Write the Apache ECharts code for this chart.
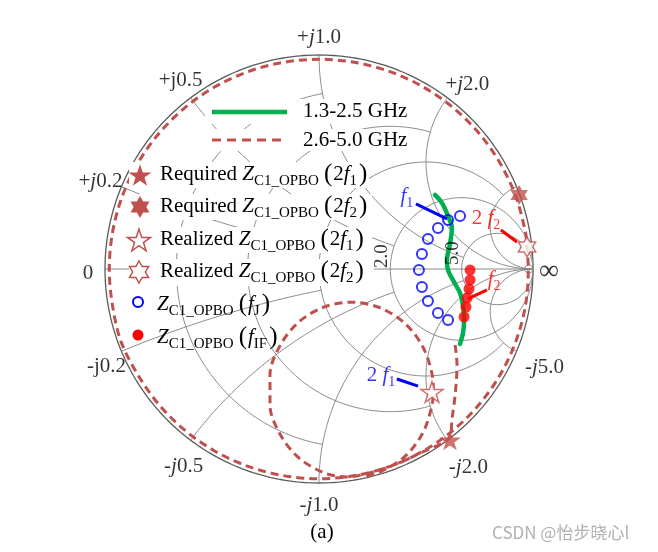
<!DOCTYPE html>
<html>
<head>
<meta charset="utf-8">
<title>Smith chart</title>
<script src="https://cdn.jsdelivr.net/npm/echarts@6.0.0/dist/echarts.min.js"></script>
<style>
html,body{margin:0;padding:0;background:#ffffff;}
#chart{width:658px;height:552px;}
</style>
</head>
<body>
<div id="chart"></div>
<script>
// ===== Data, in the reflection-coefficient plane: [Re Γ, Im Γ] =====
// 1.3-2.5 GHz trace
const band1Trace = [
  [0.542,0.346],[0.575,0.308],[0.607,0.238],[0.621,0.192],[0.612,0.117],[0.598,0.042],
  [0.603,-0.005],[0.631,-0.061],[0.659,-0.112],[0.673,-0.173],[0.678,-0.238],[0.673,-0.299],[0.659,-0.350]
];
// 2.6-5.0 GHz trace
const band2Trace = [
  [0.636,-0.355],[0.645,-0.449],[0.636,-0.589],[0.621,-0.706],[0.612,-0.785],
  [0.490,-0.852],[0.335,-0.921],[0.170,-0.965],[0.000,-0.980],[-0.170,-0.965],[-0.335,-0.921],
  [-0.490,-0.849],[-0.630,-0.751],[-0.751,-0.630],[-0.849,-0.490],[-0.926,-0.337],[-0.965,-0.170],
  [-0.980,0.000],[-0.965,0.170],[-0.921,0.335],[-0.849,0.490],[-0.751,0.630],[-0.630,0.751],
  [-0.490,0.849],[-0.335,0.921],[-0.170,0.965],[0.000,0.980],[0.170,0.965],[0.335,0.921],
  [0.490,0.849],[0.630,0.751],[0.751,0.630],[0.849,0.490],[0.921,0.335],[0.965,0.170],
  [0.972,0.103],[0.978,0.000],[0.965,-0.170],[0.921,-0.335],[0.849,-0.490],[0.751,-0.630],
  [0.630,-0.751],[0.490,-0.849],[0.335,-0.921],[0.200,-0.962],
  [0.130,-0.972],[0.018,-0.950],[-0.098,-0.879],[-0.183,-0.770],[-0.229,-0.636],[-0.229,-0.494],
  [-0.183,-0.360],[-0.098,-0.251],[0.018,-0.180],[0.150,-0.155],[0.282,-0.180],[0.398,-0.251],
  [0.483,-0.360],[0.529,-0.494],[0.534,-0.570],[0.525,-0.650],[0.483,-0.770],[0.398,-0.879],
  [0.282,-0.950],[0.210,-0.968]
];
// Z_C1_OPBO(f_J)
const zFJ = [
  [0.659,0.248],[0.603,0.229],[0.556,0.192],[0.509,0.140],[0.481,0.070],
  [0.467,-0.005],[0.481,-0.084],[0.509,-0.150],[0.556,-0.206],[0.603,-0.238]
];
// Z_C1_OPBO(f_IF)
const zFIF = [
  [0.706,-0.005],[0.706,-0.051],[0.701,-0.093],[0.692,-0.136],[0.687,-0.178],[0.678,-0.224]
];
const required2f1 = [[0.612,-0.799]];
const required2f2 = [[0.935,0.346]];
const realized2f1 = [[0.528,-0.575]];
const realized2f2 = [[0.972,0.103]];
// annotation leader lines and their label anchors
const leaderF1  = [[0.453,0.304],[0.598,0.234]];
const leader2F2 = [[0.850,0.182],[0.925,0.126]];
const leaderF2  = [[0.785,-0.098],[0.696,-0.140]];
const leader2F1 = [[0.364,-0.514],[0.463,-0.547]];
const annotationAnchors = [[0.411,0.340],[0.780,0.236],[0.818,-0.049],[0.290,-0.498]];
const annotationNames = ['f1','2f2','f2','2f1'];

// ===== Smith chart grid values and tick labels =====
const resistanceCircles = [0.2, 0.5, 1, 2, 5, 50];
const resistanceCircleReach = [1, 2, 5, Infinity, Infinity, Infinity];
const reactanceArcs = [0.2, 0.5, 1, 2, 5, -0.2, -0.5, -1, -2, -5];
const reactanceArcReach = [1, 2, 5, Infinity, Infinity, 1, 2, 5, Infinity, Infinity];
const reactanceTickValues = [0.2, 0.5, 1, 2, -0.2, -0.5, -1, -2, -5];
const reactanceTickLabels = ['+j0.2','+j0.5','+j1.0','+j2.0','-j0.2','-j0.5','-j1.0','-j2.0','-j5.0'];
const resistanceTickValues = [0, 2, 5, Infinity];
const resistanceTickLabels = ['0','2.0','5.0','\u221E'];

// ===== Styling / layout (not data) =====
const reactanceTickItalicJ = [true,false,true,true,false,true,true,true,true];
const reactanceTickOffset = [[-21,-5],[-10,-17],[0,-18],[20,-13],[-15,15],[-7,26],[0,22],[21,27],[28,16]];
// offsets of rotated labels are given in the label's own (rotated) frame
const resistanceTickOffset = [[-17,4],[13,-8],[16,-9],[16,3]];
const resistanceTickRotate = [0,90,90,0];
const resistanceTickSize = [21,19,19,28];
const SERIF = '"Liberation Serif","Times New Roman",serif';
const STAR_RED = '#c0504d';
const STAR5 = 'M50,0L61.8,35.1L98.9,35.1L68.9,56.7L80.3,91.9L50,70.2L19.7,91.9L31.1,56.7L1.1,35.1L38.2,35.1Z';
const HEX6 = 'M50,0L64.43,25L93.3,25L78.87,50L93.3,75L64.43,75L50,100L35.57,75L6.7,75L21.13,50L6.7,25L35.57,25Z';

function gamma(r, x) {
  if (!isFinite(r)) return [1, 0];
  const d = (r + 1) * (r + 1) + x * x;
  return [(r * r - 1 + x * x) / d, 2 * x / d];
}
function resistanceCirclePoints(r, reach) {
  const c = r / (1 + r), rad = 1 / (1 + r);
  let a0 = 0, a1 = 2 * Math.PI;
  if (isFinite(reach)) {
    const g = gamma(r, reach);
    a0 = Math.atan2(g[1], g[0] - c);
    a1 = 2 * Math.PI - a0;
  }
  const pts = [];
  const n = 360;
  for (let k = 0; k <= n; k++) {
    const a = a0 + (a1 - a0) * k / n;
    pts.push([c + rad * Math.cos(a), rad * Math.sin(a)]);
  }
  return pts;
}
function reactanceArcPoints(x, reach) {
  const T = isFinite(reach) ? reach / (1 + reach) : 1;
  const pts = [];
  const n = 300;
  for (let k = 0; k <= n; k++) {
    const t = T * k / n;
    if (t >= 1) { pts.push([1, 0]); continue; }
    pts.push(gamma(t / (1 - t), x));
  }
  return pts;
}
function gridLine(points, color, width) {
  return {
    type: 'line', data: points, showSymbol: false, symbol: 'none', silent: true, clip: false,
    animation: false, z: 1,
    lineStyle: { color: color, width: width }
  };
}

const series = [];
// unit circle + real axis
series.push(gridLine(resistanceCirclePoints(0, Infinity), '#5a5a5a', 1.3));
series.push(gridLine([[-1, 0], [1, 0]], '#8a8a8a', 1));
resistanceCircles.forEach((r, i) => series.push(gridLine(resistanceCirclePoints(r, resistanceCircleReach[i]), '#8a8a8a', 1)));
reactanceArcs.forEach((x, i) => series.push(gridLine(reactanceArcPoints(x, reactanceArcReach[i]), '#8a8a8a', 1)));

// tick labels
const tickRich = {
  n: { fontFamily: SERIF, fontSize: 21, color: '#000' },
  i: { fontFamily: SERIF, fontSize: 21, fontStyle: 'italic', color: '#000' }
};
function tickText(label, italicJ) {
  const k = label.indexOf('j');
  return '{n|' + label.slice(0, k) + '}{' + (italicJ ? 'i' : 'n') + '|j}{n|' + label.slice(k + 1) + '}';
}
series.push({
  type: 'scatter', silent: true, clip: false, animation: false, symbolSize: 1, z: 6,
  itemStyle: { color: 'rgba(0,0,0,0)' },
  data: reactanceTickValues.map((v, i) => ({ value: gamma(0, v), label: { offset: reactanceTickOffset[i] } })),
  label: {
    show: true, position: 'inside', color: '#000', align: 'center', verticalAlign: 'middle',
    formatter: p => tickText(reactanceTickLabels[p.dataIndex], reactanceTickItalicJ[p.dataIndex]),
    rich: tickRich
  }
});
series.push({
  type: 'scatter', silent: true, clip: false, animation: false, symbolSize: 1, z: 6,
  itemStyle: { color: 'rgba(0,0,0,0)' },
  data: resistanceTickValues.map((r, i) => ({
    value: gamma(r, 0),
    label: { offset: resistanceTickOffset[i], rotate: resistanceTickRotate[i], fontSize: resistanceTickSize[i] }
  })),
  label: {
    show: true, position: 'inside', color: '#000', align: 'center', verticalAlign: 'middle',
    fontFamily: SERIF,
    formatter: p => resistanceTickLabels[p.dataIndex]
  }
});

// data traces
series.push({
  type: 'line', data: band2Trace, smooth: 0.33, showSymbol: false, symbol: 'none', silent: true, clip: false,
  animation: false, z: 3, lineStyle: { color: STAR_RED, width: 3, type: [8, 5] }
});
series.push({
  type: 'line', data: band1Trace, smooth: 0.33, showSymbol: false, symbol: 'none', silent: true, clip: false,
  animation: false, z: 4, lineStyle: { color: '#00b050', width: 4.5, cap: 'round' }
});
series.push({
  type: 'scatter', data: zFJ, symbol: 'circle', symbolSize: 10, silent: true, clip: false, animation: false, z: 5,
  itemStyle: { color: 'rgba(255,255,255,0)', borderColor: '#0000ff', borderWidth: 2 }
});
series.push({
  type: 'scatter', data: zFIF, symbol: 'circle', symbolSize: 11, silent: true, clip: false, animation: false, z: 5,
  itemStyle: { color: '#ff0000' }
});
// leader lines
[[leaderF1, '#0000ff'], [leader2F2, '#ff0000'], [leaderF2, '#ff0000'], [leader2F1, '#0000ff']].forEach(([d, col]) => {
  series.push({
    type: 'line', data: d, showSymbol: false, symbol: 'none', silent: true, clip: false, animation: false, z: 6,
    lineStyle: { color: col, width: 3 }
  });
});
// stars
function starSeries(data, path, size, hollow) {
  return {
    type: 'scatter', data: data, symbol: 'path://' + path, symbolSize: size, symbolKeepAspect: true,
    silent: true, clip: false, animation: false, z: 7,
    itemStyle: hollow ? { color: '#ffffff', borderColor: STAR_RED, borderWidth: 1.5 } : { color: STAR_RED }
  };
}
series.push(starSeries(required2f1, STAR5, 22, false));
series.push(starSeries(required2f2, HEX6, 20, false));
series.push(starSeries(realized2f1, STAR5, 22, true));
series.push(starSeries(realized2f2, HEX6, 20, true));

// annotation labels
function annotationText(name) {
  const col = (name === 'f1' || name === '2f1') ? 'b' : 'r';
  const lead = name.length === 3 ? '{' + col + 'n|2 }' : '';
  return lead + '{' + col + 'i|f}{' + col + 's|' + name.slice(-1) + '}';
}
function annRich(c) {
  return {
    n: { fontFamily: SERIF, fontSize: 21, color: c },
    i: { fontFamily: SERIF, fontSize: 21, fontStyle: 'italic', color: c },
    s: { fontFamily: SERIF, fontSize: 14, color: c, padding: [14, 0, 0, 0] }
  };
}
const rb = annRich('#0000ff'), rr = annRich('#ff0000');
series.push({
  type: 'scatter', silent: true, clip: false, animation: false, symbolSize: 1, z: 8,
  itemStyle: { color: 'rgba(0,0,0,0)' },
  data: annotationAnchors,
  label: {
    show: true, position: 'inside', align: 'center', verticalAlign: 'middle',
    formatter: p => annotationText(annotationNames[p.dataIndex]),
    rich: { bn: rb.n, bi: rb.i, bs: rb.s, rn: rr.n, ri: rr.i, rs: rr.s }
  }
});

// ===== Legend (graphic) =====
function gRich(color) {
  return {
    n: { font: '21px ' + SERIF, fill: color },
    i: { font: 'italic 21px ' + SERIF, fill: color },
    s: { font: '15px ' + SERIF, fill: color, padding: [14, 0, 0, 0] },
    po: { font: '25px ' + SERIF, fill: color, padding: [0, 1, 0, 5] },
    pc: { font: '25px ' + SERIF, fill: color, padding: [0, 0, 0, 2] }
  };
}
const legendRich = gRich('#000');
function legendText(x, y, text) {
  return {
    type: 'text', x: x, y: y, z: 102,
    style: { text: text, rich: legendRich, fill: '#000', font: '21px ' + SERIF,
      align: 'left', verticalAlign: 'middle', textAlign: 'left', textVerticalAlign: 'middle' }
  };
}
function whiteBox(x, y, w, h) {
  return { type: 'rect', z: 100, shape: { x: x, y: y, width: w, height: h }, style: { fill: '#ffffff' } };
}
function pathToPoints(path, cx, cy, size) {
  const nums = path.match(/-?\d+(\.\d+)?/g).map(Number);
  const pts = [];
  for (let k = 0; k < nums.length; k += 2) pts.push([nums[k], nums[k + 1]]);
  const xs = pts.map(p => p[0]), ys = pts.map(p => p[1]);
  const minX = Math.min(...xs), maxX = Math.max(...xs), minY = Math.min(...ys), maxY = Math.max(...ys);
  const s = size / Math.max(maxX - minX, maxY - minY);
  const mx = (minX + maxX) / 2, my = (minY + maxY) / 2;
  return pts.map(p => [cx + (p[0] - mx) * s, cy + (p[1] - my) * s]);
}
function legendStar(path, cx, cy, size, hollow) {
  return {
    type: 'polygon', z: 101,
    shape: { points: pathToPoints(path, cx, cy, size) },
    style: hollow ? { fill: '#ffffff', stroke: STAR_RED, lineWidth: 1.5 } : { fill: STAR_RED }
  };
}
const zLabel = '{i|Z}{s|C1_OPBO}';
const graphic = [
  whiteBox(205, 99, 209, 25),
  whiteBox(205, 129, 209, 22),
  whiteBox(129, 162, 240, 26),
  whiteBox(129, 194, 243, 26),
  whiteBox(129, 227, 243, 26),
  whiteBox(129, 259, 245, 27),
  { type: 'line', z: 101, shape: { x1: 212, y1: 112, x2: 287, y2: 112 }, style: { stroke: '#00b050', lineWidth: 4.5 } },
  { type: 'line', z: 101, shape: { x1: 212, y1: 140, x2: 287, y2: 140 }, style: { stroke: STAR_RED, lineWidth: 3, lineDash: [9, 6] } },
  legendText(303, 111, '{n|1.3-2.5 GHz}'),
  legendText(303, 140, '{n|2.6-5.0 GHz}'),
  legendStar(STAR5, 140, 175, 23, false),
  legendStar(HEX6, 140, 207, 22, false),
  legendStar(STAR5, 139, 240, 23, true),
  legendStar(HEX6, 139, 272, 22, true),
  { type: 'circle', z: 101, shape: { cx: 138, cy: 302, r: 5 }, style: { fill: 'none', stroke: '#0000ff', lineWidth: 2 } },
  { type: 'circle', z: 101, shape: { cx: 138, cy: 335, r: 5.5 }, style: { fill: '#ff0000' } },
  legendText(160, 174, '{n|Required }' + zLabel + '{po|(}{n|2}{i|f}{s|1}{pc|)}'),
  legendText(160, 206, '{n|Required }' + zLabel + '{po|(}{n|2}{i|f}{s|2}{pc|)}'),
  legendText(160, 239, '{n|Realized }' + zLabel + '{po|(}{n|2}{i|f}{s|1}{pc|)}'),
  legendText(160, 271, '{n|Realized }' + zLabel + '{po|(}{n|2}{i|f}{s|2}{pc|)}'),
  legendText(157, 304, zLabel + '{po|(}{i|f}{s|J}{pc|)}'),
  legendText(157, 337, zLabel + '{po|(}{i|f}{s|IF}{pc|)}'),
  { type: 'text', x: 322, y: 532, z: 102,
    style: { text: '(a)', font: '21px ' + SERIF, fill: '#000', align: 'center', verticalAlign: 'middle', textAlign: 'center', textVerticalAlign: 'middle' } },
  { type: 'text', x: 492, y: 533, z: 102,
    style: { text: 'CSDN @怡步晓心l', font: '17px "Noto Sans CJK SC","Noto Sans",sans-serif', fill: '#b0b0b0', align: 'left', verticalAlign: 'middle', textAlign: 'left', textVerticalAlign: 'middle' } }
];

const chart = echarts.init(document.getElementById('chart'), null, { renderer: 'canvas', width: 658, height: 552 });
chart.setOption({
  animation: false,
  backgroundColor: '#ffffff',
  grid: { left: 105, top: 55, width: 428, height: 428, containLabel: false },
  xAxis: { type: 'value', min: -1, max: 1, show: false },
  yAxis: { type: 'value', min: -1, max: 1, show: false },
  series: series,
  graphic: graphic
});
</script>
</body>
</html>
